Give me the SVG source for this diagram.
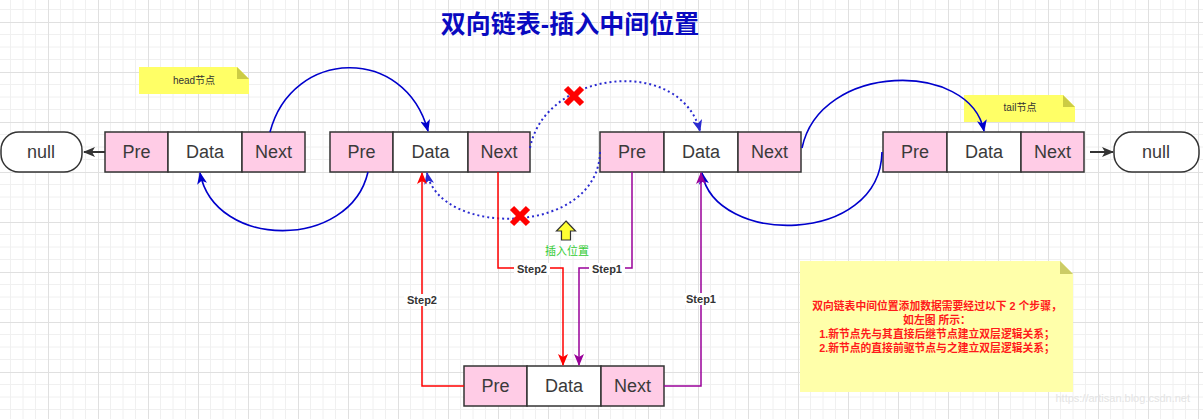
<svg xmlns="http://www.w3.org/2000/svg" width="1203" height="419" viewBox="0 0 1203 419">
<style>
.box{stroke:#333;stroke-width:1.5}
.pink{fill:#ffcce6}
.white{fill:#fff}
.lbl{font-family:"Liberation Sans",Arial,sans-serif;font-size:18px;fill:#3a3a3a;text-anchor:middle}
.note{font-family:"Liberation Sans","Noto Sans CJK SC",sans-serif;font-size:10px;fill:#333;text-anchor:middle}
.step{font-family:"Liberation Sans",Arial,sans-serif;font-size:11px;font-weight:bold;fill:#333;text-anchor:middle}
.blue{fill:none;stroke:#0000cc;stroke-width:1.6}
.dot{fill:none;stroke:#2a2ad0;stroke-width:2;stroke-dasharray:2 3}
.red{fill:none;stroke:#ff0000;stroke-width:1.5}
.pur{fill:none;stroke:#990099;stroke-width:1.5}
.gray{fill:none;stroke:#333;stroke-width:2}
.xm{stroke:#ff0000;stroke-width:6}
.desc{font-family:"Liberation Sans","Noto Sans CJK SC",sans-serif;font-size:10.8px;font-weight:bold;fill:#ff1a1a;text-anchor:middle}
</style>
<defs>
<pattern id="grid" x="48" y="22" width="50" height="50" patternUnits="userSpaceOnUse">
<path d="M12.5 0V50M25 0V50M37.5 0V50M0 12.5H50M0 25H50M0 37.5H50" stroke="#f0f0f0" stroke-width="1" fill="none"/>
<path d="M0.5 0V50M0 0.5H50" stroke="#e0e0e0" stroke-width="1" fill="none"/>
</pattern>
<marker id="aB" markerWidth="12" markerHeight="10" refX="11" refY="5" orient="auto" markerUnits="userSpaceOnUse"><path d="M0,0L12,5L0,10L3,5Z" fill="#0000cc"/></marker>
<marker id="aD" markerWidth="12" markerHeight="10" refX="11" refY="5" orient="auto" markerUnits="userSpaceOnUse"><path d="M0,0L12,5L0,10L3,5Z" fill="#2a2ad0"/></marker>
<marker id="aR" markerWidth="12" markerHeight="10" refX="11" refY="5" orient="auto" markerUnits="userSpaceOnUse"><path d="M0,0L12,5L0,10L3,5Z" fill="#ff0000"/></marker>
<marker id="aP" markerWidth="12" markerHeight="10" refX="11" refY="5" orient="auto" markerUnits="userSpaceOnUse"><path d="M0,0L12,5L0,10L3,5Z" fill="#990099"/></marker>
<marker id="aG" markerWidth="12" markerHeight="10" refX="11" refY="5" orient="auto" markerUnits="userSpaceOnUse"><path d="M0,0L12,5L0,10L3,5Z" fill="#333"/></marker>
</defs>
<rect width="1203" height="419" fill="#fff"/>
<rect width="1203" height="419" fill="url(#grid)"/>

<text x="570" y="33" font-family="'Liberation Sans','Noto Sans CJK SC',sans-serif" font-size="25" font-weight="bold" fill="#0a0ac0" text-anchor="middle">双向链表-插入中间位置</text>

<g id="note-head">
<path d="M139,67H237L249,79V94H139Z" fill="#ffff66"/>
<path d="M237,67L249,79H237Z" fill="#cccc44"/>
<text class="note" x="194" y="84">head节点</text>
</g>
<g id="note-tail">
<path d="M964,95H1063L1075,107V122H964Z" fill="#ffff66"/>
<path d="M1063,95L1075,107H1063Z" fill="#cccc44"/>
<text class="note" x="1020" y="111">tail节点</text>
</g>
<g id="note-desc">
<path d="M800,261H1060L1073,274V392H800Z" fill="#ffffaa"/>
<path d="M1060,261L1073,274H1060Z" fill="#cccc66"/>
<text class="desc" x="937" y="310">双向链表中间位置添加数据需要经过以下 2 个步骤，</text>
<text class="desc" x="937" y="324">如左图 所示：</text>
<text class="desc" x="937" y="338">1.新节点先与其直接后继节点建立双层逻辑关系；</text>
<text class="desc" x="937" y="352">2.新节点的直接前驱节点与之建立双层逻辑关系；</text>
</g>

<g id="null-left">
<rect class="box white" x="1" y="132" width="81" height="40" rx="18"/>
<text class="lbl" x="41" y="158">null</text>
</g>
<g id="null-right">
<rect class="box white" x="1114" y="132" width="85" height="40" rx="18"/>
<text class="lbl" x="1156" y="158">null</text>
</g>

<g id="node1">
<rect class="box pink" x="105" y="132" width="63" height="40"/>
<rect class="box white" x="168" y="132" width="74" height="40"/>
<rect class="box pink" x="242" y="132" width="63" height="40"/>
<text class="lbl" x="136.5" y="158">Pre</text>
<text class="lbl" x="205" y="158">Data</text>
<text class="lbl" x="273.5" y="158">Next</text>
</g>
<g id="node2">
<rect class="box pink" x="330" y="132" width="63" height="40"/>
<rect class="box white" x="393" y="132" width="75" height="40"/>
<rect class="box pink" x="468" y="132" width="62" height="40"/>
<text class="lbl" x="361.5" y="158">Pre</text>
<text class="lbl" x="430.5" y="158">Data</text>
<text class="lbl" x="499" y="158">Next</text>
</g>
<g id="node3">
<rect class="box pink" x="600" y="132" width="64" height="40"/>
<rect class="box white" x="664" y="132" width="74" height="40"/>
<rect class="box pink" x="738" y="132" width="63" height="40"/>
<text class="lbl" x="632" y="158">Pre</text>
<text class="lbl" x="701" y="158">Data</text>
<text class="lbl" x="769.5" y="158">Next</text>
</g>
<g id="node4">
<rect class="box pink" x="883" y="132" width="64" height="40"/>
<rect class="box white" x="947" y="132" width="74" height="40"/>
<rect class="box pink" x="1021" y="132" width="63" height="40"/>
<text class="lbl" x="915" y="158">Pre</text>
<text class="lbl" x="984" y="158">Data</text>
<text class="lbl" x="1052.5" y="158">Next</text>
</g>
<g id="node-new">
<rect class="box pink" x="464" y="366" width="63" height="40"/>
<rect class="box white" x="527" y="366" width="74" height="40"/>
<rect class="box pink" x="601" y="366" width="63" height="40"/>
<text class="lbl" x="495.5" y="392">Pre</text>
<text class="lbl" x="564" y="392">Data</text>
<text class="lbl" x="632.5" y="392">Next</text>
</g>

<g id="insert-mark">
<path d="M566,221L575.5,231H570.5V240H561.5V231H556.5Z" fill="#ffff33" stroke="#333" stroke-width="1.2"/>
<text x="567" y="255" font-family="'Liberation Sans','Noto Sans CJK SC',sans-serif" font-size="11" fill="#33cc33" text-anchor="middle">插入位置</text>
</g>

<g id="connectors">
<path class="gray" d="M105,152H84" marker-end="url(#aG)"/>
<path class="gray" d="M1090,152H1113" marker-end="url(#aG)"/>
<path class="blue" d="M270,132C292,48 405,45 428,131" marker-end="url(#aB)"/>
<path class="blue" d="M368,172C350,250 215,250 200,173" marker-end="url(#aB)"/>
<path class="blue" d="M802,148C820,62 970,60 984,131" marker-end="url(#aB)"/>
<path class="blue" d="M882,152C880,246 715,246 702,173" marker-end="url(#aB)"/>
<path class="dot" d="M530,148C545,70 680,55 700,131" marker-end="url(#aD)"/>
<path class="dot" d="M600,152C598,236 440,238 427,173" marker-end="url(#aD)"/>

<path class="red" d="M498,172V268H563V365" marker-end="url(#aR)"/>
<path class="pur" d="M632,172V268H579V365" marker-end="url(#aP)"/>
<path class="red" d="M464,386H422V173" marker-end="url(#aR)"/>
<path class="pur" d="M664,386H701V173" marker-end="url(#aP)"/>

<rect x="514" y="263" width="36" height="12" fill="#fff"/>
<text class="step" x="532" y="273">Step2</text>
<rect x="589" y="263" width="36" height="12" fill="#fff"/>
<text class="step" x="607" y="273">Step1</text>
<rect x="404" y="294" width="36" height="12" fill="#fff"/>
<text class="step" x="422" y="304">Step2</text>
<rect x="683" y="293" width="36" height="12" fill="#fff"/>
<text class="step" x="701" y="303">Step1</text>

<path class="xm" d="M566,88L582,104M582,88L566,104"/>
<path class="xm" d="M512,208L528,224M528,208L512,224"/>
</g>

<text x="1190" y="402" font-family="'Liberation Sans',Arial,sans-serif" font-size="11" fill="#e4e4e4" text-anchor="end">https://artisan.blog.csdn.net</text>
</svg>
